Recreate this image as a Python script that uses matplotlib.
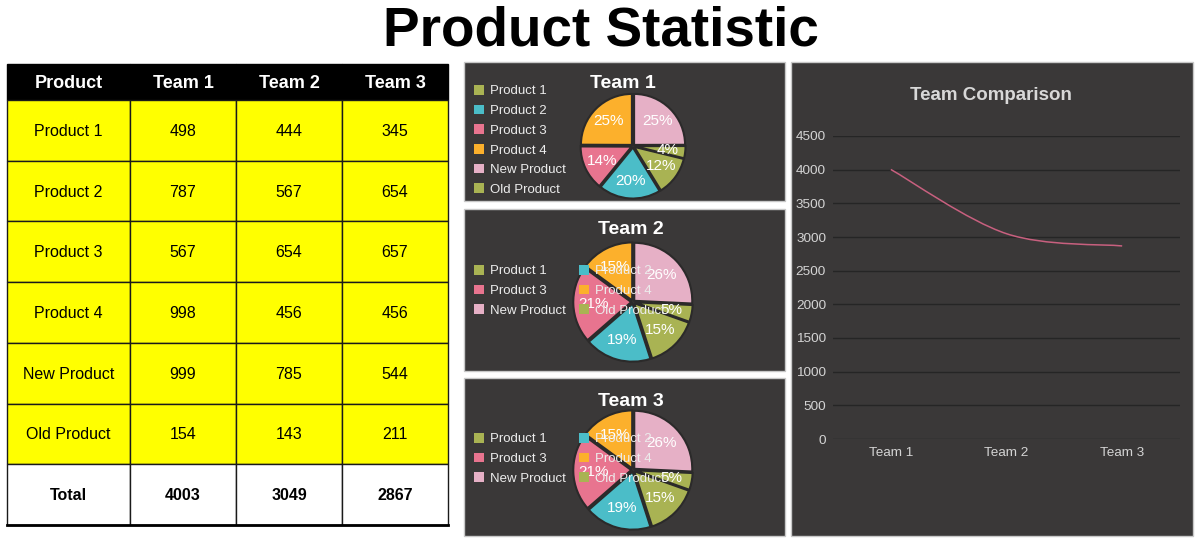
import numpy as np
import matplotlib
matplotlib.use("Agg")
import matplotlib.pyplot as plt
from matplotlib.patches import Rectangle, PathPatch, Patch
from matplotlib.path import Path

plt.rcParams['font.family'] = ['Liberation Sans', 'DejaVu Sans']

# data
products = ["Product 1", "Product 2", "Product 3", "Product 4", "New Product", "Old Product"]
teams = ["Team 1", "Team 2", "Team 3"]
team1 = [498, 787, 567, 998, 999, 154]
team2 = [444, 567, 654, 456, 785, 143]
team3 = [345, 654, 657, 456, 544, 211]
totals = [4003, 3049, 2867]
# the Team 3 pie in the picture repeats the Team 2 shares
pie_team3 = [444, 567, 654, 456, 785, 143]

slice_colors = ["#a9b353", "#4bbdc8", "#e8748f", "#fcb02c", "#e6b0c6", "#a9b353"]
panel_bg = "#3a3838"
light = "#ececec"

W, H = 1200, 544
fig = plt.figure(figsize=(W / 100, H / 100), dpi=100)


def box(x0, y0, x1, y1):
    return [x0 / W, 1 - y1 / H, (x1 - x0) / W, (y1 - y0) / H]


base = fig.add_axes([0, 0, 1, 1])
base.set_xlim(0, W)
base.set_ylim(H, 0)
base.axis("off")

base.text(601, 46, "Product Statistic", ha="center", va="baseline",
          fontsize=39.5, fontweight="bold", color="black")

# ---- table ----
col_x = [7, 130, 236, 342, 448]
row_y = [64] + list(np.linspace(100, 525, 8))
header = ["Product"] + teams
rows = [[p, a, b, c] for p, a, b, c in zip(products, team1, team2, team3)]
rows.append(["Total"] + totals)

for j in range(4):
    base.add_patch(Rectangle((col_x[j], row_y[0]), col_x[j + 1] - col_x[j],
                             row_y[1] - row_y[0], facecolor="black", edgecolor="black"))
    base.text((col_x[j] + col_x[j + 1]) / 2, (row_y[0] + row_y[1]) / 2 + 1, header[j],
              ha="center", va="center", color="white", fontsize=13, fontweight="bold")

for i, r in enumerate(rows):
    y0, y1 = row_y[i + 1], row_y[i + 2]
    is_total = r[0] == "Total"
    for j in range(4):
        base.add_patch(Rectangle((col_x[j], y0), col_x[j + 1] - col_x[j], y1 - y0,
                                 facecolor="white" if is_total else "#ffff00",
                                 edgecolor="#1a1a1a", linewidth=1.0))
        base.text((col_x[j] + col_x[j + 1]) / 2, (y0 + y1) / 2 + 1, str(r[j]),
                  ha="center", va="center", color="black", fontsize=11.5,
                  fontweight="bold" if is_total else "normal")
base.plot([col_x[0], col_x[-1]], [525, 525], color="black", lw=2)

# ---- dark panels ----
panels = [(464, 62, 785, 201), (464, 209, 785, 371), (464, 378, 785, 536), (791, 62, 1193, 536)]
for x0, y0, x1, y1 in panels:
    base.add_patch(Rectangle((x0, y0), x1 - x0, y1 - y0, facecolor=panel_bg,
                             edgecolor="#c8c8c8", linewidth=1.0))

# ---- pies ----
pie_sets = [
    ("Team 1", team1, (633, 146), 51, (623, 83), 85),
    ("Team 2", team2, (633, 302), 58, (631, 230), 265),
    ("Team 3", pie_team3, (633, 470), 58, (631, 401), 433),
]

for name, vals, (cx, cy), rad, (tx, ty), leg_top in pie_sets:
    s = rad * 1.3
    ax = fig.add_axes(box(cx - s, cy - s, cx + s, cy + s))
    ax.set_facecolor("none")
    frac_before_new = sum(vals[:4]) / sum(vals)
    wedges, texts, autotexts = ax.pie(
        vals, colors=slice_colors, counterclock=False,
        startangle=90 + 360 * frac_before_new,
        explode=[0.03] * len(vals), autopct="%1.0f%%", pctdistance=0.65,
        wedgeprops=dict(edgecolor="#2b2a2a", linewidth=1.5),
        textprops=dict(color="white", fontsize=11))
    ax.set_xlim(-1.3, 1.3)
    ax.set_ylim(-1.3, 1.3)
    ax.set_aspect("equal")
    ax.axis("off")
    base.text(tx, ty, name, ha="center", va="center", color="white",
              fontsize=14, fontweight="bold", zorder=5)

    handles = [Patch(facecolor=c, edgecolor="none") for c in slice_colors]
    if name == "Team 1":
        leg = ax.legend(handles, products, loc="upper left",
                        bbox_to_anchor=(474 / W, 1 - leg_top / H), bbox_transform=fig.transFigure,
                        ncol=1, frameon=False, fontsize=9.5, labelcolor=light,
                        handlelength=0.75, handleheight=0.75, handletextpad=0.45,
                        labelspacing=0.55, borderpad=0, borderaxespad=0)
    else:
        order = [0, 2, 4, 1, 3, 5]
        leg = ax.legend([handles[k] for k in order], [products[k] for k in order],
                        loc="upper left",
                        bbox_to_anchor=(474 / W, 1 - leg_top / H), bbox_transform=fig.transFigure,
                        ncol=2, frameon=False, fontsize=9.5, labelcolor=light,
                        handlelength=0.75, handleheight=0.75, handletextpad=0.45,
                        labelspacing=0.55, columnspacing=1.0, borderpad=0, borderaxespad=0)
    leg.set_zorder(10)

# ---- team comparison line ----
lax = fig.add_axes(box(833, 136, 1180, 439))
lax.set_facecolor("none")
xs = np.arange(len(teams))
pts = list(zip(xs, totals))
verts = [pts[0]]
codes = [Path.MOVETO]
for i in range(len(pts) - 1):
    p0 = pts[i - 1] if i > 0 else pts[i]
    p1, p2 = pts[i], pts[i + 1]
    p3 = pts[i + 2] if i + 2 < len(pts) else pts[i + 1]
    c1 = (p1[0] + (p2[0] - p0[0]) / 6, p1[1] + (p2[1] - p0[1]) / 6)
    c2 = (p2[0] - (p3[0] - p1[0]) / 6, p2[1] - (p3[1] - p1[1]) / 6)
    verts += [c1, c2, p2]
    codes += [Path.CURVE4] * 3
lax.add_patch(PathPatch(Path(verts, codes), facecolor="none", edgecolor="#c8607f", lw=1.1))
lax.set_xlim(-0.5, 2.5)
lax.set_ylim(0, 4500)
lax.set_yticks(np.arange(0, 4501, 500))
lax.set_xticks(xs)
lax.set_xticklabels(teams)
lax.grid(axis="y", color="#252525", linewidth=1.0)
lax.set_axisbelow(True)
for sp in lax.spines.values():
    sp.set_visible(False)
lax.tick_params(length=0, colors="#d4d4d4", labelsize=9.7, pad=5)
lax.tick_params(axis="x", pad=6)
base.text(991, 95, "Team Comparison", ha="center", va="center", color="#d8d8d8",
          fontsize=13.5, fontweight="bold", zorder=5)

fig.savefig("out.png", dpi=100, facecolor="white")
